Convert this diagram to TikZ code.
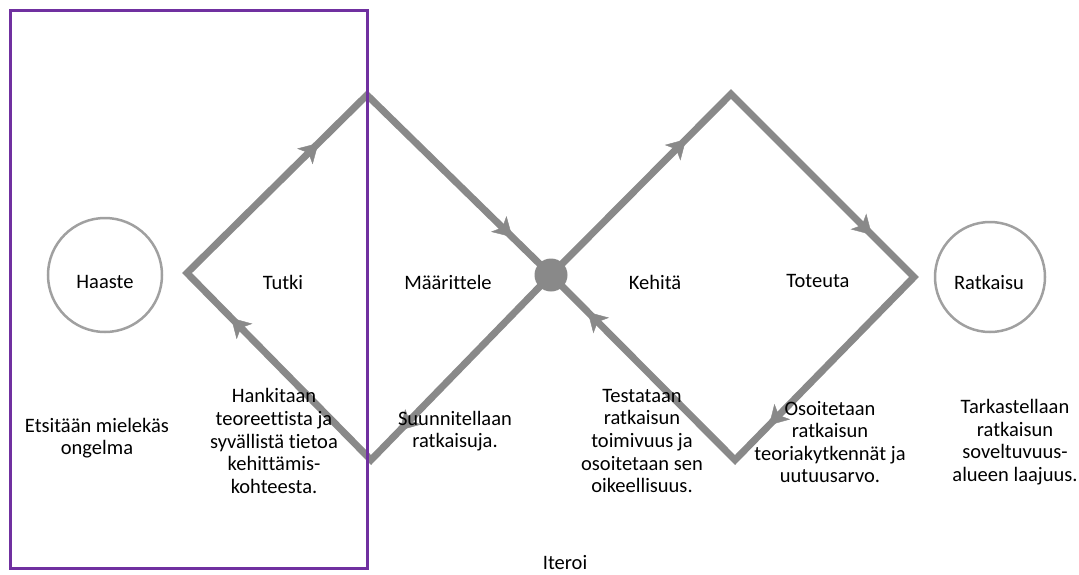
\documentclass[tikz,border=0pt]{standalone}
\usepackage{fontspec}
\setmainfont{Carlito}[Ligatures=NoCommon]
\usetikzlibrary{arrows.meta,decorations.markings}
\definecolor{flow}{RGB}{137,137,137}
\definecolor{ring}{RGB}{160,160,160}
\definecolor{framecol}{RGB}{112,48,160}
\tikzset{
  flowline/.style={draw=flow, line width=7pt, line join=miter},
  midarrow/.style={color=flow, postaction=decorate,
    decoration={markings, mark=at position #1 with
      {\arrow{Stealth[length=19pt,width=22pt,inset=5pt]}}}},
  txt/.style={align=center, font=\fontsize{20.5}{22.6}\selectfont, inner sep=0pt},
  stage/.style={circle, draw=ring, line width=2.5pt, inner sep=0pt},
}
\begin{document}
\begin{tikzpicture}[x=1pt, y=-1pt]
  \useasboundingbox (0,0) rectangle (1079,574);

  % diamond corners
  \coordinate (L1) at (187,273);
  \coordinate (T1) at (367,95);
  \coordinate (B1) at (371,460);
  \coordinate (H)  at (551,275);
  \coordinate (T2) at (731,94);
  \coordinate (R2) at (914,277);
  \coordinate (B2) at (735,460);

  % the two diamonds
  \draw[flowline] (B1) -- (L1) -- (T1) -- (H) -- cycle;
  \draw[flowline] (H) -- (T2) -- (R2) -- (B2) -- cycle;

  % direction arrows
  \path[midarrow=0.76] (B1) -- (L1);
  \path[midarrow=0.73] (L1) -- (T1);
  \path[midarrow=0.79] (T1) -- (H);
  \path[midarrow=0.84] (H) -- (B1);
  \path[midarrow=0.75] (H) -- (T2);
  \path[midarrow=0.77] (T2) -- (R2);
  \path[midarrow=0.81] (R2) -- (B2);
  \path[midarrow=0.80] (B2) -- (H);

  % hub between the diamonds
  \node[circle, fill=flow, minimum size=33pt, inner sep=0pt] (hub) at (H) {};

  % start and end
  \node[stage, minimum size=114pt] (haaste) at (105,275) {};
  \node[stage, minimum size=110pt] (ratkaisu) at (990,277) {};
  \node[txt] (haastetxt) at (105,282) {Haaste};
  \node[txt] (ratkaisutxt) at (989,282) {Ratkaisu};

  % phase names
  \node[txt] (tutki) at (283,282) {Tutki};
  \node[txt] (maar) at (448,282) {Määrittele};
  \node[txt] (kehita) at (655,282) {Kehitä};
  \node[txt] (toteuta) at (818,281) {Toteuta};

  % descriptions
  \node[txt] (d1) at (97,438) {Etsitään mielekäs\\ongelma};
  \node[txt] (d2) at (274,441) {Hankitaan\\teoreettista ja\\syvällistä tietoa\\kehittämis-\\kohteesta.};
  \node[txt] (d3) at (455,431) {Suunnitellaan\\ratkaisuja.};
  \node[txt] (d4) at (642,441) {Testataan\\ratkaisun\\toimivuus ja\\osoitetaan sen\\oikeellisuus.};
  \node[txt] (d5) at (830,442) {Osoitetaan\\ratkaisun\\teoriakytkennät ja\\uutuusarvo.};
  \node[txt] (d6) at (1015,442) {Tarkastellaan\\ratkaisun\\soveltuvuus-\\alueen laajuus.};

  \node[txt] (iteroi) at (565,563) {Iteroi};

  % iteration frame
  \draw[framecol, line width=3pt] (10,10) rectangle (367,568);
\end{tikzpicture}
\end{document}
